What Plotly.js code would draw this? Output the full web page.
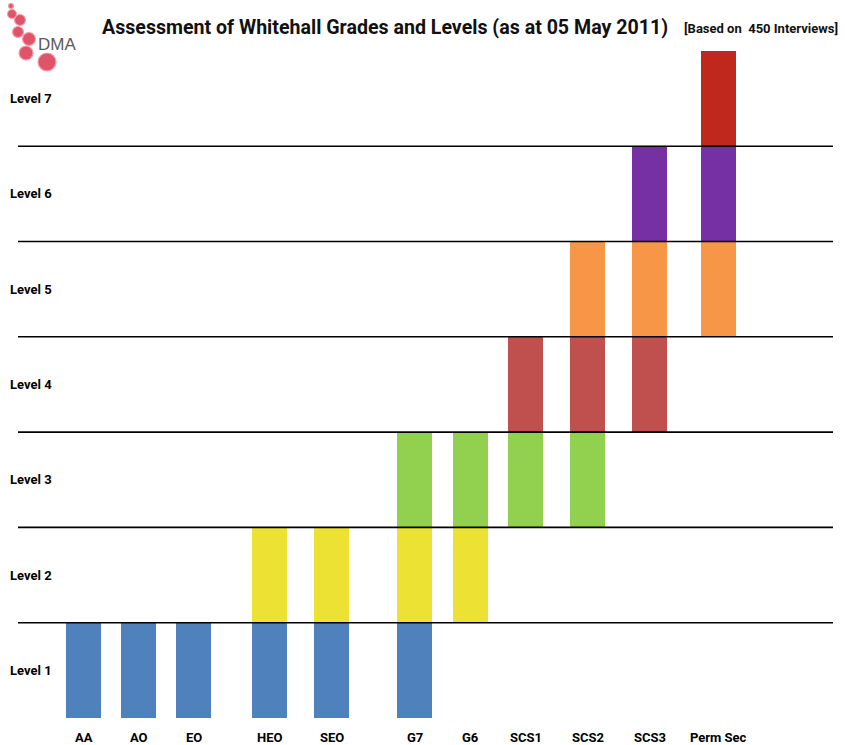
<!DOCTYPE html>
<html><head><meta charset="utf-8">
<script src="https://cdn.plot.ly/plotly-3.0.1.min.js"></script>
<style>html,body{margin:0;padding:0;background:#fff}#chart{width:845px;height:745px}</style>
</head><body><div id="chart"></div>
<script>
const grades = ["AA","AO","EO","HEO","SEO","G7","G6","SCS1","SCS2","SCS3","Perm Sec"];
const gradePos = [83.5,138.5,193.5,269.5,331.5,414.5,470.5,525.5,587.5,649.5,718.5];
const lowLevel  = [1,1,1,1,1,1,2,3,3,4,5];
const highLevel = [1,1,1,2,2,3,3,4,5,6,7];
const levels = ["Level 1","Level 2","Level 3","Level 4","Level 5","Level 6","Level 7"];
const levelColors = ["#4F81BD","#ECE233","#92D050","#C0504D","#F79646","#7531A3","#C0281E"];

const FONT = "Roboto, Open Sans, sans-serif";
const traces = levels.map((lv, i) => {
  const L = i + 1;
  const xs = [], ys = [], bs = [];
  grades.forEach((g, k) => {
    if (lowLevel[k] <= L && highLevel[k] >= L) { xs.push(gradePos[k]); ys.push(1); bs.push(L - 1); }
  });
  return {type:'bar', x: xs, y: ys, base: bs, width: 35, name: lv,
    marker:{color: levelColors[i], line:{width:0}}, hoverinfo:'skip'};
});

const shapes = [];
for (let L = 1; L <= 6; L++) {
  shapes.push({type:'line', xref:'x', yref:'y', x0:18, x1:833, y0:L, y1:L, line:{color:'#000', width:1.6}, layer:'above'});
}
// DMA logo bubbles
const bubbles = [[11,6,2.5],[12,14,4.5],[20,20,5.5],[18,32,5.5],[29,39,6.5],[26,53,7],[47,62,9]];
bubbles.forEach(b => shapes.push({type:'circle', xref:'paper', yref:'paper',
  x0:(b[0]-b[2])/845, x1:(b[0]+b[2])/845, y0:1-(b[1]+b[2])/745, y1:1-(b[1]-b[2])/745,
  fillcolor:'#E0546A', line:{color:'#F3A0AC', width:1.2}}));

const annotations = [];
grades.forEach((g, k) => annotations.push({x: gradePos[k], y: -0.2, xref:'x', yref:'y', text: '<b>'+g+'</b>',
  showarrow:false, font:{family:FONT, size:13, color:'#000'}}));
levels.forEach((lv, i) => annotations.push({x: 8, y: i + 0.5, xref:'x', yref:'y', xanchor:'left', text:'<b>'+lv+'</b>',
  showarrow:false, font:{family:FONT, size:13, color:'#000'}}));
annotations.push({xref:'paper', yref:'paper', x:100/845, y:1-27/745, xanchor:'left', yanchor:'middle', showarrow:false,
  text:'<b>Assessment of Whitehall Grades and Levels (as at 05 May 2011)</b>',
  font:{family:FONT, size:19.6, color:'#111'}});
annotations.push({xref:'paper', yref:'paper', x:840/845, y:1-29/745, xanchor:'right', yanchor:'middle', showarrow:false,
  text:'<b>[Based on  450 Interviews]</b>',
  font:{family:FONT, size:13, color:'#111'}});
annotations.push({xref:'paper', yref:'paper', x:36/845, y:1-44/745, xanchor:'left', yanchor:'middle', showarrow:false,
  text:'DMA', font:{family:'Liberation Sans, sans-serif', size:17, color:'#5a5a5a'}});

const layout = {
  width:845, height:745, margin:{l:0,r:0,t:0,b:0}, paper_bgcolor:'#fff', plot_bgcolor:'#fff',
  barmode:'overlay', showlegend:false,
  xaxis:{range:[0,845], visible:false, fixedrange:true},
  yaxis:{range:[-0.283,7.534], visible:false, fixedrange:true},
  shapes: shapes, annotations: annotations
};
Plotly.newPlot('chart', traces, layout, {displayModeBar:false, staticPlot:true});
</script></body></html>
